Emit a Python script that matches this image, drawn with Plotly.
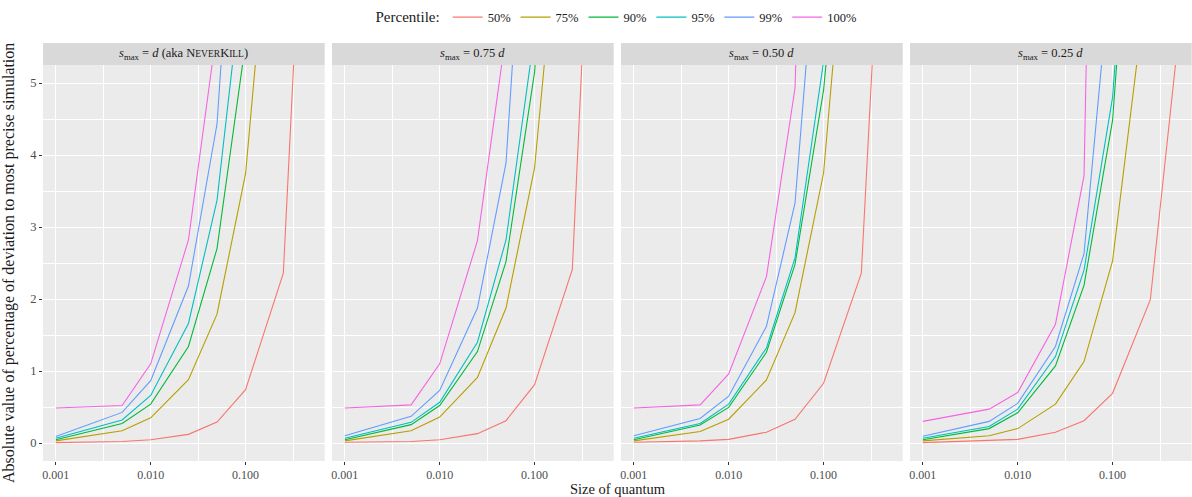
import plotly.graph_objects as go

# ---------------- data ----------------
quantum = [0.001, 0.005, 0.01, 0.025, 0.05, 0.1, 0.25, 0.5]
percentiles = ["50%", "75%", "90%", "95%", "99%", "100%"]
colors = ["#F8766D", "#B79F00", "#00BA38", "#00BFC4", "#619CFF", "#F564E3"]

panel_titles = [
    "<i>s</i><sub>max</sub> = <i>d</i> (aka N<span style='font-size:9.5px'>EVER</span>K<span style='font-size:9.5px'>ILL</span>)",
    "<i>s</i><sub>max</sub> = 0.75 <i>d</i>",
    "<i>s</i><sub>max</sub> = 0.50 <i>d</i>",
    "<i>s</i><sub>max</sub> = 0.25 <i>d</i>",
]

# rows: 50%, 75%, 90%, 95%, 99%, 100%
smax_100 = [
    [0.005, 0.02, 0.045, 0.12, 0.29, 0.74, 2.36, 10.4],
    [0.03, 0.17, 0.35, 0.88, 1.79, 3.74, 9.6, 20.0],
    [0.046, 0.27, 0.54, 1.34, 2.70, 5.56, 14.0, 28.0],
    [0.065, 0.32, 0.66, 1.66, 3.37, 6.86, 17.0, 34.0],
    [0.09, 0.425, 0.865, 2.18, 4.43, 10.3, 25.0, 50.0],
    [0.486, 0.52, 1.10, 2.82, 5.76, 12.0, 30.0, 60.0],
]
smax_075 = [
    [0.01, 0.02, 0.046, 0.13, 0.31, 0.81, 2.41, 11.0],
    [0.03, 0.17, 0.36, 0.91, 1.875, 3.82, 9.4, 19.0],
    [0.046, 0.255, 0.52, 1.27, 2.52, 5.15, 13.0, 26.0],
    [0.065, 0.287, 0.565, 1.40, 2.82, 5.69, 14.0, 28.0],
    [0.10, 0.37, 0.73, 1.875, 3.89, 9.98, 24.0, 48.0],
    [0.486, 0.53, 1.10, 2.81, 5.69, 12.0, 29.0, 58.0],
]
smax_050 = [
    [0.01, 0.03, 0.05, 0.15, 0.33, 0.83, 2.36, 10.0],
    [0.03, 0.16, 0.33, 0.875, 1.81, 3.75, 9.8, 20.0],
    [0.046, 0.25, 0.495, 1.26, 2.48, 4.90, 10.5, 22.0],
    [0.065, 0.27, 0.54, 1.32, 2.57, 5.3, 13.0, 26.0],
    [0.10, 0.34, 0.65, 1.62, 3.33, 8.27, 20.0, 40.0],
    [0.486, 0.53, 0.96, 2.31, 4.93, 14.0, 34.0, 68.0],
]
smax_025 = [
    [0.005, 0.03, 0.05, 0.15, 0.31, 0.69, 1.99, 5.7],
    [0.03, 0.10, 0.20, 0.54, 1.13, 2.53, 6.8, 14.0],
    [0.046, 0.20, 0.42, 1.07, 2.19, 4.48, 11.7, 24.0],
    [0.065, 0.23, 0.47, 1.20, 2.40, 4.80, 12.0, 25.0],
    [0.093, 0.30, 0.55, 1.34, 2.63, 6.9, 17.0, 34.0],
    [0.30, 0.47, 0.70, 1.65, 3.71, 14.6, 35.0, 70.0],
]
panels = [smax_100, smax_075, smax_050, smax_025]

x_tickvals = [0.001, 0.01, 0.1]
x_ticktext = ["0.001", "0.010", "0.100"]
x_minor = [10 ** -2.5, 10 ** -1.5, 10 ** -0.5]
y_tickvals = [0, 1, 2, 3, 4, 5]

# ---------------- layout geometry ----------------
W, H = 1192, 497
L, R, T, B = 43, 0, 43, 36
plot_w = W - L - R
plot_h = H - T - B
panel_w = 281.7
step = 289.0
strip_h = 22.0
y_top = 1 - strip_h / plot_h

FONT = "Liberation Serif, DejaVu Serif, serif"
TICK_COL = "#4D4D4D"

fig = go.Figure()
layout = dict(
    width=W, height=H,
    margin=dict(l=L, r=R, t=T, b=B),
    paper_bgcolor="white",
    plot_bgcolor="#EBEBEB",
    font=dict(family=FONT, color="#1A1A1A", size=12),
    showlegend=True,
    legend=dict(
        orientation="h", x=0.5, xanchor="center",
        yref="container", y=0.995, yanchor="top",
        title=dict(text="Percentile:", font=dict(size=15, family=FONT), side="left"),
        font=dict(size=12.5, family=FONT),
        itemwidth=30, bgcolor="rgba(0,0,0,0)",
    ),
    shapes=[], annotations=[],
)

xlog_range = [-3.135, -0.166]
for i, (title, pdata) in enumerate(zip(panel_titles, panels)):
    n = "" if i == 0 else str(i + 1)
    x0 = i * step / plot_w
    x1 = min((i * step + panel_w) / plot_w, 1.0)
    layout["xaxis" + n] = dict(
        domain=[x0, x1], anchor="y" + n, type="log", range=xlog_range,
        tickvals=x_tickvals, ticktext=x_ticktext,
        showgrid=True, gridcolor="white", gridwidth=1.1,
        minor=dict(tickvals=x_minor, showgrid=True, gridcolor="white", gridwidth=0.5, ticks=""),
        ticks="outside", ticklen=3, tickcolor="#333333", tickwidth=1,
        tickfont=dict(size=12, color=TICK_COL, family=FONT),
        zeroline=False, showline=False,
    )
    layout["yaxis" + n] = dict(
        domain=[0, y_top], anchor="x" + n, range=[-0.25, 5.25],
        tickvals=y_tickvals, showticklabels=(i == 0),
        showgrid=True, gridcolor="white", gridwidth=1.1,
        minor=dict(tickmode="linear", tick0=0, dtick=0.5, showgrid=True,
                   gridcolor="white", gridwidth=0.5, ticks=""),
        ticks="outside" if i == 0 else "", ticklen=3, tickcolor="#333333", tickwidth=1,
        tickfont=dict(size=12.5, color=TICK_COL, family=FONT),
        zeroline=False, showline=False,
    )
    layout["shapes"].append(dict(
        type="rect", xref="paper", yref="paper", x0=x0, x1=x1, y0=y_top, y1=1,
        fillcolor="#D9D9D9", line=dict(width=0), layer="below",
    ))
    layout["annotations"].append(dict(
        text=title, xref="paper", yref="paper", x=(x0 + x1) / 2, y=(y_top + 1) / 2,
        xanchor="center", yanchor="middle", showarrow=False,
        font=dict(size=12.5, color="#1A1A1A", family=FONT),
    ))
    for j, (pct, col) in enumerate(zip(percentiles, colors)):
        fig.add_trace(go.Scatter(
            x=quantum, y=pdata[j], mode="lines", name=pct,
            line=dict(color=col, width=1.1),
            xaxis="x" + n, yaxis="y" + n,
            legendgroup=pct, showlegend=(i == 0),
        ))

# axis titles
layout["annotations"].append(dict(
    text="Size of quantum", xref="paper", yref="paper", x=0.5, y=0,
    xanchor="center", yanchor="top", yshift=-18, showarrow=False,
    font=dict(size=14.5, color="#1A1A1A", family=FONT),
))
layout["annotations"].append(dict(
    text="Absolute value of percentage of deviation to most precise simulation",
    xref="paper", yref="paper", x=0, y=y_top / 2, xanchor="center", yanchor="middle",
    xshift=-34, textangle=-90, showarrow=False,
    font=dict(size=16, color="#1A1A1A", family=FONT),
))

fig.update_layout(**layout)
fig.write_html("out.html")
